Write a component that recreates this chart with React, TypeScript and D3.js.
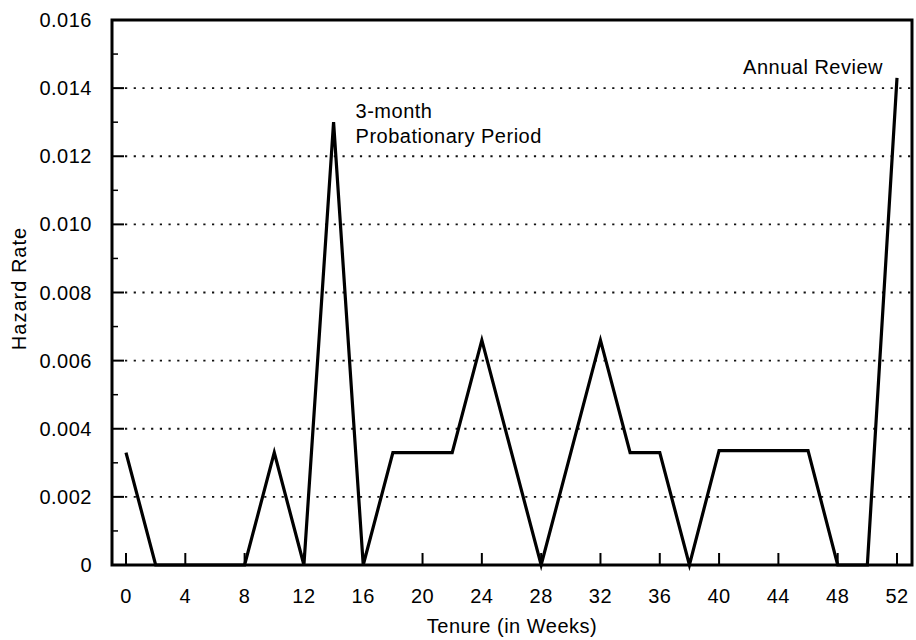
import React from "react";
import * as d3 from "d3";

// Hazard rate by week of tenure
const weeks = [0, 2, 8, 10, 12, 14, 16, 18, 22, 24, 28, 32, 34, 36, 38, 40, 46, 48, 50, 52];
const hazard = [
  0.0033, 0, 0, 0.0033, 0, 0.013, 0, 0.0033, 0.0033, 0.0066, 0, 0.0066, 0.0033, 0.0033, 0,
  0.00336, 0.00336, 0, 0, 0.0143,
];
const xTicks = [0, 4, 8, 12, 16, 20, 24, 28, 32, 36, 40, 44, 48, 52];
const yMajorTicks = [0, 0.002, 0.004, 0.006, 0.008, 0.01, 0.012, 0.014, 0.016];
const yMinorTicks = [0.001, 0.003, 0.005, 0.007, 0.009, 0.011, 0.013, 0.015];
const annotations = [
  { lines: ["Annual Review"], week: 52, value: 0.0143 },
  { lines: ["3-month", "Probationary Period"], week: 14, value: 0.013 },
];

const W = 916;
const H = 640;
const frame = { left: 112, right: 912, top: 20, bottom: 565 };
const FONT = "'Liberation Sans', Arial, Helvetica, sans-serif";

export default function App() {
  const x = d3.scaleLinear().domain([0, 52]).range([126, 897]);
  const y = d3.scaleLinear().domain([0, 0.016]).range([frame.bottom, frame.top]);

  const line = d3
    .line<number>()
    .x((_, i) => x(weeks[i]))
    .y((d) => y(d));

  const fmt = (v: number) => (v === 0 ? "0" : d3.format(".3f")(v));
  const probX = x(annotations[1].week) + 22;

  return (
    <svg
      width={W}
      height={H}
      style={{ position: "absolute", left: 0, top: 0, background: "#fff" }}
      fontFamily={FONT}
    >
      <rect width={W} height={H} fill="#fff" />

      {/* dotted gridlines */}
      {yMajorTicks
        .filter((v) => v > 0 && v < 0.016)
        .map((v) => (
          <line
            key={"g" + v}
            x1={frame.left + 13}
            x2={frame.right}
            y1={y(v)}
            y2={y(v)}
            stroke="#111"
            strokeWidth={1.8}
            strokeDasharray="2.2 6.5"
          />
        ))}

      {/* y ticks */}
      {yMajorTicks.map((v) => (
        <line
          key={"ym" + v}
          x1={frame.left}
          x2={frame.left + 12}
          y1={y(v)}
          y2={y(v)}
          stroke="#000"
          strokeWidth={2}
        />
      ))}
      {yMinorTicks.map((v) => (
        <line
          key={"yn" + v}
          x1={frame.left}
          x2={frame.left + 6}
          y1={y(v)}
          y2={y(v)}
          stroke="#000"
          strokeWidth={1.5}
        />
      ))}

      {/* x ticks */}
      {xTicks.map((t) => (
        <line
          key={"xt" + t}
          x1={x(t)}
          x2={x(t)}
          y1={frame.bottom}
          y2={frame.bottom - 12}
          stroke="#000"
          strokeWidth={2}
        />
      ))}

      {/* frame */}
      <rect
        x={frame.left}
        y={frame.top}
        width={frame.right - frame.left}
        height={frame.bottom - frame.top}
        fill="none"
        stroke="#000"
        strokeWidth={3}
      />

      {/* hazard line */}
      <path d={line(hazard) || ""} fill="none" stroke="#000" strokeWidth={3.2} />

      {/* y tick labels */}
      {yMajorTicks.map((v) => (
        <text
          key={"yl" + v}
          x={92}
          y={y(v) + 7}
          textAnchor="end"
          fontSize={20}
          letterSpacing={0.5}
          fill="#000"
        >
          {fmt(v)}
        </text>
      ))}

      {/* x tick labels */}
      {xTicks.map((t) => (
        <text
          key={"xl" + t}
          x={x(t)}
          y={603}
          textAnchor="middle"
          fontSize={20}
          letterSpacing={0.5}
          fill="#000"
        >
          {t}
        </text>
      ))}

      {/* axis titles */}
      <text x={512} y={633} textAnchor="middle" fontSize={20} letterSpacing={0.5} fill="#000">
        Tenure (in Weeks)
      </text>
      <text
        transform={`translate(26, ${(frame.top + frame.bottom) / 2 - 4}) rotate(-90)`}
        textAnchor="middle"
        fontSize={20}
        letterSpacing={1}
        fill="#000"
      >
        Hazard Rate
      </text>

      {/* annotations */}
      <text x={x(annotations[0].week) - 14} y={74} textAnchor="end" fontSize={20} letterSpacing={0.5} fill="#000">
        {annotations[0].lines[0]}
      </text>
      <text x={probX} y={118} fontSize={20} letterSpacing={0.5} fill="#000">
        <tspan x={probX}>{annotations[1].lines[0]}</tspan>
        <tspan x={probX} dy={25}>
          {annotations[1].lines[1]}
        </tspan>
      </text>
    </svg>
  );
}
